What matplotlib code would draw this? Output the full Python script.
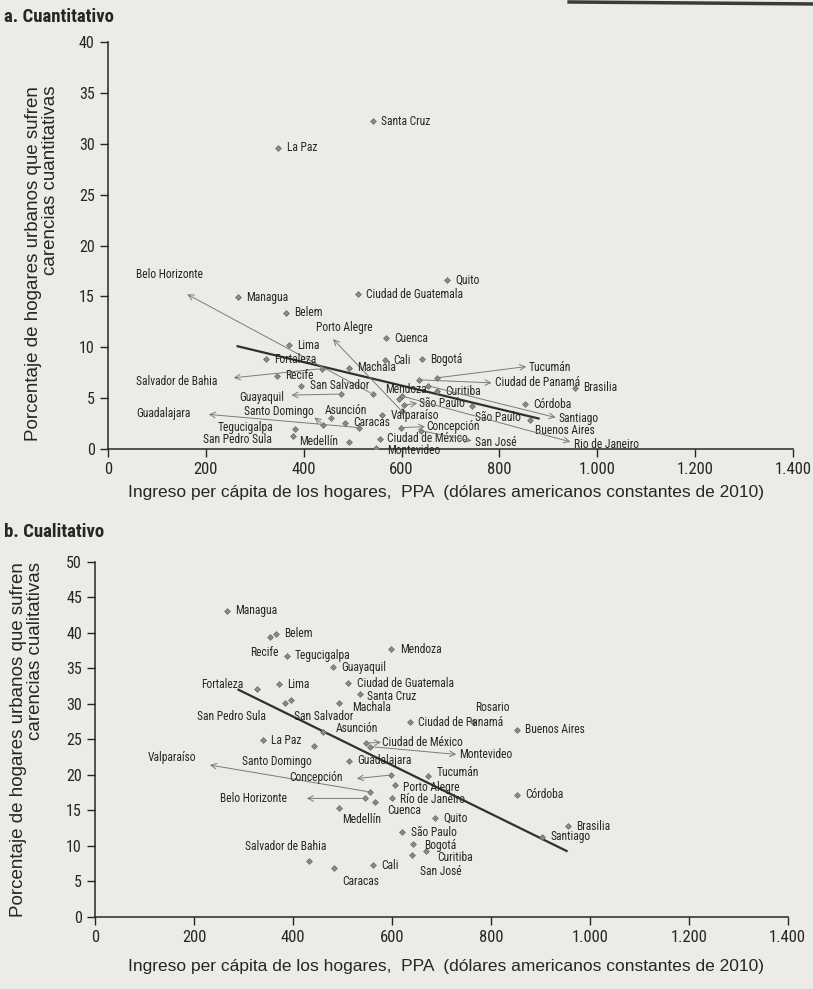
import matplotlib

matplotlib.use("Agg")
import matplotlib.pyplot as plt  # noqa: E402
from matplotlib import font_manager  # noqa: E402
from matplotlib.ticker import FuncFormatter, MultipleLocator  # noqa: E402

# a. carencias cuantitativas
cities_a = [
    "Santa Cruz", "La Paz", "Quito", "Belo Horizonte", "Managua",
    "Ciudad de Guatemala", "Belem", "Porto Alegre", "Cuenca", "Lima",
    "Cali", "Bogotá", "Fortaleza", "Machala", "Tucumán",
    "Salvador de Bahia", "Recife", "Ciudad de Panamá", "Brasilia", "San Salvador",
    "Mendoza", "Curitiba", "Guayaquil", "São Paulo", "Córdoba",
    "Asunción", "Santo Domingo", "Valparaíso", "São Paulo", "Santiago",
    "Guadalajara", "Caracas", "Concepción", "Buenos Aires", "Tegucigalpa",
    "San Pedro Sula", "Medellín", "Ciudad de México", "San José", "Rio de Janeiro",
    "Montevideo",
]
ingreso_a = [
    541, 348, 692, 541, 265,
    510, 363, 601, 568, 370,
    566, 642, 323, 492, 673,
    437, 346, 636, 955, 395,
    595, 673, 476, 604, 853,
    456, 440, 560, 744, 655,
    514, 485, 599, 862, 382,
    378, 493, 556, 639, 601,
    548,
]
cuant_a = [
    32.2, 29.6, 16.6, 5.4, 14.9,
    15.2, 13.4, 3.7, 10.9, 10.2,
    8.7, 8.8, 8.8, 8.0, 7.0,
    7.9, 7.2, 6.8, 6.0, 6.2,
    4.9, 5.7, 5.4, 4.3, 4.4,
    3.0, 2.4, 3.3, 4.2, 6.2,
    2.1, 2.6, 2.1, 2.9, 2.0,
    1.3, 0.7, 0.95, 1.8, 5.2,
    0.1,
]
trend_a_x = [265, 880]
trend_a_y = [10.1, 3.0]

# b. carencias cualitativas
cities_b = [
    "Managua", "Belem", "Recife", "Tegucigalpa", "Mendoza",
    "Guayaquil", "Fortaleza", "Lima", "Ciudad de Guatemala", "Santa Cruz",
    "Machala", "San Salvador", "San Pedro Sula", "Rosario", "Ciudad de Panamá",
    "Buenos Aires", "Asunción", "La Paz", "Ciudad de México", "Montevideo",
    "Valparaíso", "Santo Domingo", "Guadalajara", "Concepción", "Tucumán",
    "Porto Alegre", "Belo Horizonte", "Río de Janeiro", "Córdoba", "Cuenca",
    "Medellín", "Quito", "Brasilia", "São Paulo", "Santiago",
    "Bogotá", "Curitiba", "Salvador de Bahia", "San José", "Cali",
    "Caracas",
]
ingreso_b = [
    266, 366, 354, 387, 599,
    480, 327, 372, 512, 535,
    494, 397, 384, 763, 636,
    852, 461, 339, 548, 556,
    556, 442, 514, 599, 673,
    606, 545, 601, 852, 566,
    494, 687, 956, 621, 904,
    643, 668, 433, 640, 561,
    483,
]
cual_b = [
    43.1, 39.9, 39.5, 36.8, 37.7,
    35.2, 32.1, 32.8, 32.9, 31.4,
    30.2, 30.5, 30.1, 27.5, 27.4,
    26.4, 26.1, 24.9, 24.5, 24.0,
    17.6, 24.1, 22.0, 20.0, 19.9,
    18.6, 16.7, 16.8, 17.2, 16.2,
    15.4, 13.9, 12.8, 11.9, 11.3,
    10.3, 9.3, 7.9, 8.7, 7.3,
    6.9,
]
trend_b_x = [290, 953]
trend_b_y = [32.0, 9.3]

# label placement: text anchor in data units, optional arrow end (arrow runs from the point)
place_a = {
    "Belo Horizonte": dict(at=(57, 17.2), ha="left", arrow=(162, 15.2)),
    "Salvador de Bahia": dict(at=(57, 6.6), ha="left", arrow=(257, 7.0)),
    "Guayaquil": dict(at=(268, 5.1), ha="left", arrow=(375, 5.3)),
    "Guadalajara": dict(at=(57, 3.5), ha="left", arrow=(206, 3.4)),
    "Santo Domingo": dict(at=(278, 3.7), ha="left", arrow=(422, 3.1)),
    "Porto Alegre": dict(at=(425, 11.9), ha="left", arrow=(460, 10.8)),
    "Tucumán": dict(at=(860, 8.0), ha="left", arrow=(855, 8.1)),
    "Ciudad de Panamá": dict(at=(790, 6.5), ha="left", arrow=(784, 6.5)),
    "San José": dict(at=(750, 0.6), ha="left", arrow=(743, 0.8)),
    "Rio de Janeiro": dict(at=(952, 0.4), ha="left", arrow=(945, 0.7)),
    "Santiago": dict(at=(920, 3.0), ha="left", arrow=(915, 3.1)),
    "Tegucigalpa": dict(at=(338, 2.1), ha="right"),
    "San Pedro Sula": dict(at=(336, 0.9), ha="right"),
    "Medellín": dict(at=(470, 0.7), ha="right"),
    "Asunción": dict(at=(443, 3.8), ha="left"),
    "Buenos Aires": dict(at=(872, 1.8), ha="left"),
    "São Paulo": dict(at=(636, 4.5), ha="left", arrow=(632, 4.5)),
    "São Paulo#2": dict(at=(750, 3.1), ha="left"),
    "Concepción": dict(at=(650, 2.2), ha="left", arrow=(648, 2.2)),
    "Mendoza": dict(at=(566, 5.8), ha="left"),
    "Ciudad de México": dict(at=(570, 1.0), ha="left"),
    "Montevideo": dict(at=(570, -0.1), ha="left"),
}
place_b = {
    "Recife": dict(at=(372, 37.3), ha="right"),
    "Fortaleza": dict(at=(300, 32.7), ha="right"),
    "San Pedro Sula": dict(at=(345, 28.2), ha="right"),
    "Santo Domingo": dict(at=(438, 21.9), ha="right"),
    "Valparaíso": dict(at=(205, 22.4), ha="right", arrow=(232, 21.4)),
    "Concepción": dict(at=(500, 19.7), ha="right", arrow=(529, 19.5)),
    "Belo Horizonte": dict(at=(388, 16.7), ha="right", arrow=(428, 16.7)),
    "Montevideo": dict(at=(736, 22.9), ha="left", arrow=(730, 22.9)),
    "Ciudad de México": dict(at=(580, 24.6), ha="left", arrow=(578, 24.6)),
    "Medellín": dict(at=(500, 13.8), ha="left"),
    "Cuenca": dict(at=(590, 15.0), ha="left"),
    "Salvador de Bahia": dict(at=(386, 9.9), ha="center"),
    "Caracas": dict(at=(499, 5.0), ha="left"),
    "San José": dict(at=(657, 6.4), ha="left"),
    "Rosario": dict(at=(768, 29.5), ha="left"),
    "Asunción": dict(at=(487, 26.6), ha="left"),
    "Santa Cruz": dict(at=(549, 31.1), ha="left"),
    "San Salvador": dict(at=(402, 28.3), ha="left"),
    "Machala": dict(at=(520, 29.5), ha="left"),
    "Tucumán": dict(at=(690, 20.4), ha="left"),
    "Porto Alegre": dict(at=(622, 18.3), ha="left"),
    "Río de Janeiro": dict(at=(617, 16.6), ha="left"),
    "Curitiba": dict(at=(692, 8.4), ha="left"),
    "Bogotá": dict(at=(665, 10.1), ha="left"),
}


def pick(*names):
    avail = {f.name for f in font_manager.fontManager.ttflist}
    for n in names:
        if n in avail:
            return n
    return "DejaVu Sans"


NARROW = pick("Liberation Sans Narrow", "Roboto Condensed", "DejaVu Sans")
WIDE = pick("Liberation Sans", "Open Sans", "DejaVu Sans")

PAPER = "#ecebe7"
INK = "#262626"
GREY = "#7a7a7a"

plt.rcParams["font.family"] = [NARROW, "DejaVu Sans"]
plt.rcParams["text.color"] = INK


def thousands(v, _pos):
    return f"{int(v):,}".replace(",", ".")


def scatter_panel(ax, cities, xs, ys, place, trend_x, trend_y, ymax, ystep):
    ax.set_facecolor("none")
    ax.plot(trend_x, trend_y, color="#303030", lw=1.6, zorder=2)
    ax.scatter(xs, ys, marker="D", s=9, color="#8a8a8a", edgecolors="#5a5a5a",
               linewidths=0.4, zorder=3)
    seen = set()
    for name, x, y in zip(cities, xs, ys):
        key = name if name not in seen else name + "#2"
        seen.add(name)
        p = place.get(key)
        if p is None:
            ax.annotate(name, (x, y), xytext=(6, 0), textcoords="offset points",
                        va="center", ha="left", fontsize=8.3, color=INK)
            continue
        if "arrow" in p:
            ax.annotate("", xy=p["arrow"], xytext=(x, y),
                        arrowprops=dict(arrowstyle="->", color=GREY, lw=0.7,
                                        shrinkA=2, shrinkB=0))
        ax.text(*p["at"], name, ha=p["ha"], va="center", fontsize=8.3, color=INK)

    ax.set_xlim(0, 1400)
    ax.set_ylim(0, ymax)
    ax.xaxis.set_major_locator(MultipleLocator(200))
    ax.yaxis.set_major_locator(MultipleLocator(ystep))
    ax.xaxis.set_major_formatter(FuncFormatter(thousands))
    for s in ("top", "right"):
        ax.spines[s].set_visible(False)
    for s in ("left", "bottom"):
        ax.spines[s].set_color(INK)
        ax.spines[s].set_linewidth(1.1)
    ax.tick_params(axis="both", colors=INK, length=6, width=1.0, labelsize=12)
    ax.tick_params(axis="y", labelsize=11.5)


fig = plt.figure(figsize=(8.13, 9.89), dpi=100, facecolor=PAPER)

ax_a = fig.add_axes([0.1328, 0.546, 0.8426, 0.4115])
scatter_panel(ax_a, cities_a, ingreso_a, cuant_a, place_a, trend_a_x, trend_a_y, 40, 5)

ax_b = fig.add_axes([0.1169, 0.0728, 0.852, 0.359])
scatter_panel(ax_b, cities_b, ingreso_b, cual_b, place_b, trend_b_x, trend_b_y, 50, 5)

xlabel = "Ingreso per cápita de los hogares,  PPA  (dólares americanos constantes de 2010)"
fig.text(0.548, 1 - 492 / 989, xlabel, ha="center", va="center", fontsize=12.5,
         family=[WIDE, "DejaVu Sans"])
fig.text(0.548, 1 - 967 / 989, xlabel, ha="center", va="center", fontsize=12.5,
         family=[WIDE, "DejaVu Sans"])

ylabel_a = "Porcentaje de hogares urbanos que sufren\ncarencias cuantitativas"
ylabel_b = "Porcentaje de hogares urbanos que sufren\ncarencias cualitativas"
fig.text(42 / 813, 1 - 86 / 989, ylabel_a, rotation=90, ha="center", va="top",
         multialignment="right", fontsize=13.5, linespacing=1.05,
         family=[WIDE, "DejaVu Sans"])
fig.text(27 / 813, 1 - 562 / 989, ylabel_b, rotation=90, ha="center", va="top",
         multialignment="right", fontsize=13.5, linespacing=1.05,
         family=[WIDE, "DejaVu Sans"])

fig.text(4 / 813, 1 - 17 / 989, "a. Cuantitativo", ha="left", va="center",
         fontsize=13.5, fontweight="bold")
fig.text(4 / 813, 1 - 532 / 989, "b. Cualitativo", ha="left", va="center",
         fontsize=13.5, fontweight="bold")

# dark edge of the facing page along the top
fig.add_artist(plt.Line2D([0.70, 1.0], [0.998, 0.996], transform=fig.transFigure,
                          color="#3a3a3a", lw=2.5))

fig.savefig("out.png", dpi=100, facecolor=PAPER)
